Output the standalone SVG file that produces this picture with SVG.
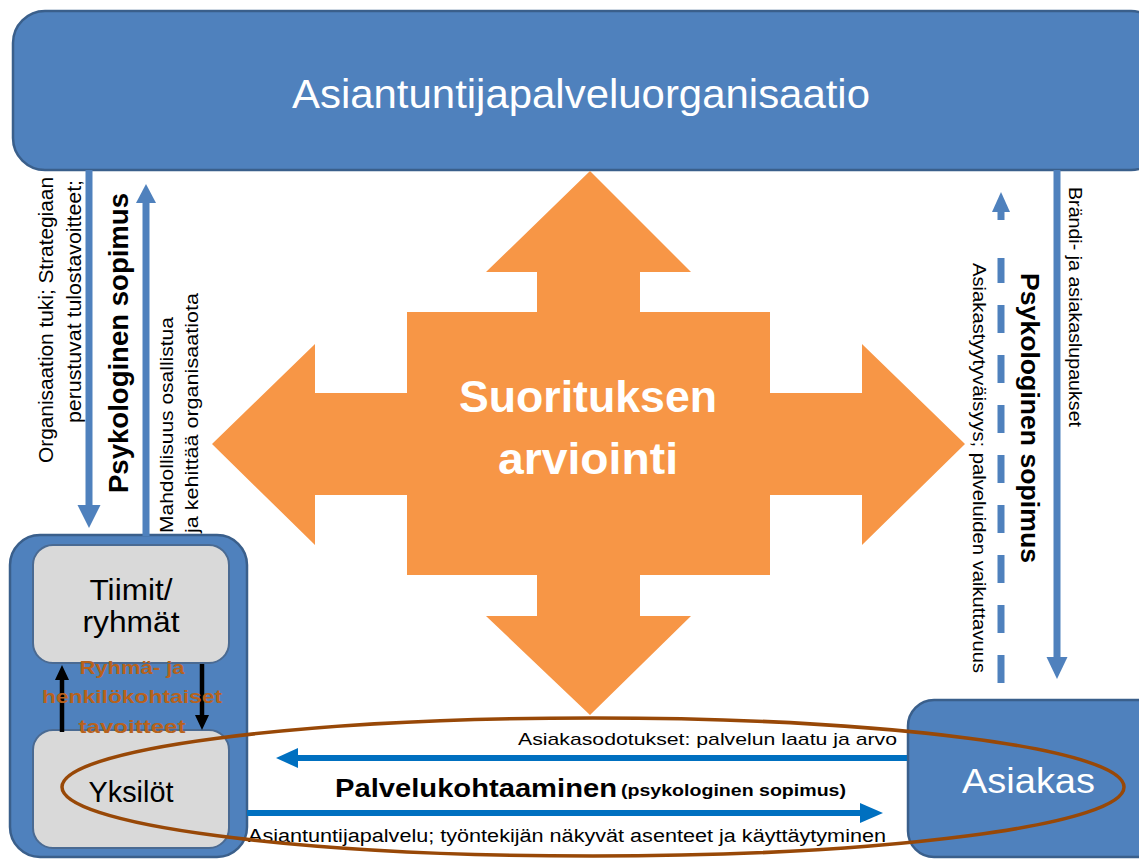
<svg xmlns="http://www.w3.org/2000/svg" width="1139" height="859" viewBox="0 0 1139 859">
<style>
.blue{fill:#4F81BD;stroke:#3A5F8B;stroke-width:2.5}
.gray{fill:#D9D9D9;stroke:#4A6A92;stroke-width:2}
.wt{fill:#FFFFFF;font-family:"Liberation Sans",Arial,sans-serif}
.bk{fill:#000000;font-family:"Liberation Sans",Arial,sans-serif}
.b{font-weight:bold}
.br{fill:#B8621B;font-family:"Liberation Sans",Arial,sans-serif;font-weight:bold;font-size:19px}
.sh{stroke:#4F81BD;stroke-width:7;fill:none}
.hd{fill:#4F81BD}
.sh2{stroke:#0070C0;stroke-width:6;fill:none}
.hd2{fill:#0070C0}
.blk{stroke:#000;stroke-width:4.5;fill:none}
</style>
<rect width="1139" height="859" fill="#FFFFFF"/>

<g id="organisaatio">
<rect class="blue" x="13" y="11" width="1150" height="159" rx="32"/>
<text class="wt" x="292" y="108" font-size="40" textLength="578" lengthAdjust="spacingAndGlyphs">Asiantuntijapalveluorganisaatio</text>
</g>

<g id="suorituksen-arviointi">
<polygon fill="#F79646" points="590,171 691,272 640,272 640,312 770,312 770,393 862,393 862,344 965,444 862,545 862,495 770,495 770,575 640,575 640,616 691,616 590,715 486,616 537,616 537,575 407,575 407,495 315,495 315,545 212,444 315,344 315,393 407,393 407,312 537,312 537,272 486,272"/>
<text class="wt b" x="459" y="412" font-size="44" textLength="258" lengthAdjust="spacingAndGlyphs">Suorituksen</text>
<text class="wt b" x="498" y="474" font-size="44" textLength="180" lengthAdjust="spacingAndGlyphs">arviointi</text>
</g>

<g id="tyontekijat">
<rect class="blue" x="10" y="535" width="237" height="322" rx="30"/>
</g>
<g id="tiimit">
<rect class="gray" x="33" y="545" width="196" height="118" rx="20"/>
<text class="bk" x="131" y="600" font-size="30" text-anchor="middle" textLength="83" lengthAdjust="spacingAndGlyphs">Tiimit/</text>
<text class="bk" x="131" y="632" font-size="30" text-anchor="middle" textLength="97" lengthAdjust="spacingAndGlyphs">ryhmät</text>
</g>
<g id="yksilot">
<rect class="gray" x="33" y="730" width="196" height="118" rx="20"/>
<text class="bk" x="131" y="802" font-size="30" text-anchor="middle" textLength="85" lengthAdjust="spacingAndGlyphs">Yksilöt</text>
</g>

<g id="asiakas">
<rect class="blue" x="908" y="700" width="260" height="157" rx="26"/>
<text class="wt" x="962" y="793" font-size="35" textLength="133" lengthAdjust="spacingAndGlyphs">Asiakas</text>
</g>

<g id="connectors">
<line class="sh" x1="89" y1="170" x2="89" y2="506"/>
<polygon class="hd" points="77.5,505 100.5,505 89,528"/>
<line class="sh" x1="146" y1="536" x2="146" y2="202"/>
<polygon class="hd" points="136,203 156,203 146,184"/>
<line class="sh" x1="1057" y1="170" x2="1057" y2="658"/>
<polygon class="hd" points="1046.5,657 1067.5,657 1057,679"/>
<line class="sh" x1="1001" y1="683" x2="1001" y2="258" stroke-dasharray="28 22"/>
<line class="sh" x1="1001" y1="220" x2="1001" y2="210"/>
<polygon class="hd" points="992,212 1010,212 1001,192"/>
<line class="sh2" x1="907" y1="758" x2="297" y2="758"/>
<polygon class="hd2" points="298,748 298,768 276,758"/>
<line class="sh2" x1="247" y1="813" x2="861" y2="813"/>
<polygon class="hd2" points="860,803 860,823 883,813"/>
<line class="blk" x1="62" y1="732" x2="62" y2="678"/>
<polygon fill="#000" points="55,680 69,680 62,665"/>
<line class="blk" x1="202" y1="664" x2="202" y2="717"/>
<polygon fill="#000" points="195,715 209,715 202,730"/>
</g>

<g id="labels">
<text class="bk" transform="translate(53,463) rotate(-90)" font-size="20" textLength="286" lengthAdjust="spacingAndGlyphs">Organisaation tuki; Strategiaan</text>
<text class="bk" transform="translate(81,423) rotate(-90)" font-size="20" textLength="243" lengthAdjust="spacingAndGlyphs">perustuvat tulostavoitteet;</text>
<text class="bk b" transform="translate(128,493) rotate(-90)" font-size="27" textLength="300" lengthAdjust="spacingAndGlyphs">Psykologinen sopimus</text>
<text class="bk" transform="translate(173,533) rotate(-90)" font-size="18" textLength="216" lengthAdjust="spacingAndGlyphs">Mahdollisuus osallistua</text>
<text class="bk" transform="translate(198,533) rotate(-90)" font-size="18" textLength="240" lengthAdjust="spacingAndGlyphs">ja kehittää  organisaatiota</text>

<text class="bk" transform="translate(1069,187) rotate(90)" font-size="18" textLength="240" lengthAdjust="spacingAndGlyphs">Brändi- ja asiakaslupaukset</text>
<text class="bk b" transform="translate(1021,273) rotate(90)" font-size="26" textLength="290" lengthAdjust="spacingAndGlyphs">Psykologinen sopimus</text>
<text class="bk" transform="translate(973,263) rotate(90)" font-size="18" textLength="410" lengthAdjust="spacingAndGlyphs">Asiakastyytyväisyys; palveluiden vaikuttavuus</text>

<text class="bk" x="518" y="745" font-size="17" textLength="379" lengthAdjust="spacingAndGlyphs">Asiakasodotukset: palvelun laatu ja arvo</text>
<text class="bk b" x="335" y="797" font-size="25" textLength="282" lengthAdjust="spacingAndGlyphs">Palvelukohtaaminen</text>
<text class="bk b" x="621" y="796" font-size="17" textLength="225" lengthAdjust="spacingAndGlyphs">(psykologinen sopimus)</text>
<text class="bk" x="248" y="842" font-size="18" textLength="638" lengthAdjust="spacingAndGlyphs">Asiantuntijapalvelu; työntekijän näkyvät  asenteet ja käyttäytyminen</text>

<text class="br" x="132" y="674" text-anchor="middle" textLength="105" lengthAdjust="spacingAndGlyphs">Ryhmä- ja</text>
<text class="br" x="132" y="703" text-anchor="middle" textLength="180" lengthAdjust="spacingAndGlyphs">henkilökohtaiset</text>
<text class="br" x="132" y="733" text-anchor="middle" textLength="107" lengthAdjust="spacingAndGlyphs">tavoitteet</text>
</g>

<g id="palvelukohtaaminen-ellipsi">
<ellipse cx="593" cy="787" rx="531" ry="69" fill="none" stroke="#984807" stroke-width="3.5"/>
</g>
</svg>
